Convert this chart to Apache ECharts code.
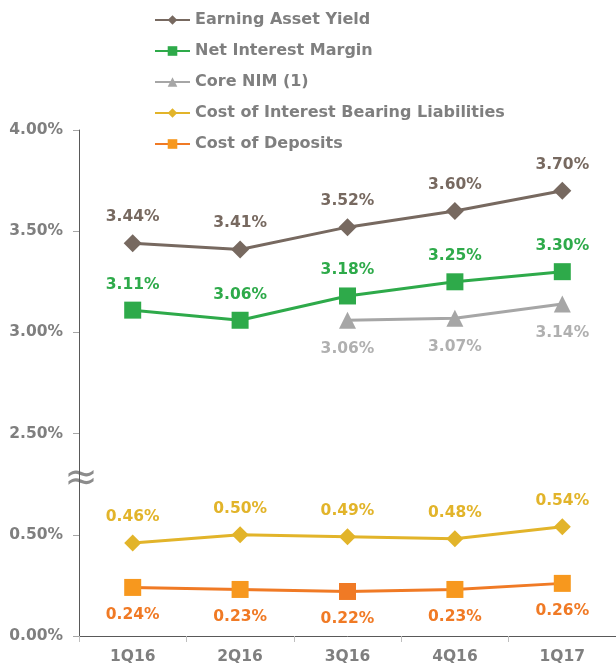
<!DOCTYPE html>
<html>
<head>
    <meta http-equiv="Content-Type" content="text/html; charset=UTF-8">
    <title>Yields and costs</title>
    <script src="https://cdn.jsdelivr.net/npm/echarts@6/dist/echarts.min.js"></script>
</head>
<body style="margin:0">
    <div id="main" style="width: 616px;height:666px;"></div>

    <script type="text/javascript">
        var quarters = ['1Q16', '2Q16', '3Q16', '4Q16', '1Q17'];
        var earningAssetYield = [3.44, 3.41, 3.52, 3.60, 3.70];
        var netInterestMargin = [3.11, 3.06, 3.18, 3.25, 3.30];
        var coreNim = [null, null, 3.06, 3.07, 3.14];
        var costOfLiabilities = [0.46, 0.50, 0.49, 0.48, 0.54];
        var costOfDeposits = [0.24, 0.23, 0.22, 0.23, 0.26];
        var yTicks = ['0.00%', '0.50%', '2.50%', '3.00%', '3.50%', '4.00%'];

        // axis is broken between 0.50% and 2.50%: upper values are shifted down by 1.5
        function brk(v) {
            if (v === null) return null;
            return v >= 2 ? v - 1.5 : v;
        }
        function pct(v) {
            return v.toFixed(2) + '%';
        }

        var font = 'DejaVu Sans, sans-serif';
        var fs = 15.5;

        function makeSeries(name, values, color, symbol, size, labelPos, labelColor, markerColor, dist) {
            return {
                name: name,
                type: 'line',
                data: values.map(function (v) { return brk(v); }),
                symbol: symbol,
                symbolSize: size,
                showAllSymbol: true,
                connectNulls: false,
                lineStyle: { color: color, width: 3 },
                itemStyle: { color: markerColor || color },
                label: {
                    show: true,
                    position: labelPos,
                    distance: dist || 9,
                    color: labelColor || color,
                    fontFamily: font,
                    fontWeight: 'bold',
                    fontSize: fs,
                    formatter: function (p) { return pct(values[p.dataIndex]); }
                },
                emphasis: { disabled: true }
            };
        }

        var cod = makeSeries('Cost of Deposits', costOfDeposits, '#f07a25', 'rect', 17, 'bottom', '#f07a25', '#f7981e', 11);
        cod.data[2] = { value: cod.data[2], itemStyle: { color: '#f07a25' } };

        var myChart = echarts.init(document.getElementById('main'));
        myChart.setOption({
            animation: false,
            textStyle: { fontFamily: font },
            legend: {
                orient: 'vertical',
                left: 149,
                top: 7,
                itemGap: 15,
                itemWidth: 35,
                itemHeight: 12,
                textStyle: { color: '#7f7f7f', fontSize: 16, fontWeight: 'bold', fontFamily: font },
                data: ['Earning Asset Yield', 'Net Interest Margin', 'Core NIM (1)',
                       'Cost of Interest Bearing Liabilities', 'Cost of Deposits']
            },
            grid: { left: 79, top: 130, width: 544, height: 506 },
            xAxis: {
                type: 'category',
                data: quarters,
                boundaryGap: true,
                axisLine: { lineStyle: { color: '#595959', width: 1 } },
                axisTick: { show: true, length: 6, lineStyle: { color: '#bfbfbf' } },
                axisLabel: { color: '#7f7f7f', fontSize: fs, fontWeight: 'bold', margin: 13 }
            },
            yAxis: {
                type: 'value',
                min: 0,
                max: 2.5,
                interval: 0.5,
                splitLine: { show: false },
                axisLine: { show: true, lineStyle: { color: '#595959', width: 1 } },
                axisTick: { show: true, length: 6, lineStyle: { color: '#a6a6a6' } },
                axisLabel: {
                    color: '#7f7f7f', fontSize: fs, fontWeight: 'bold', margin: 16,
                    formatter: function (v) { return yTicks[Math.round(v / 0.5)]; }
                }
            },
            graphic: [
                {
                    type: 'text',
                    x: 81,
                    y: 480,
                    style: {
                        text: '\u2248', fill: '#8c8c8c', font: '40px ' + font,
                        textAlign: 'center', textVerticalAlign: 'middle'
                    }
                }
            ],
            series: [
                makeSeries('Earning Asset Yield', earningAssetYield, '#776960', 'diamond', 18, 'top'),
                makeSeries('Net Interest Margin', netInterestMargin, '#2eaa4a', 'rect', 17, 'top'),
                makeSeries('Core NIM (1)', coreNim, '#a6a6a6', 'triangle', 17, 'bottom', '#b0b0b0', null, 12),
                makeSeries('Cost of Interest Bearing Liabilities', costOfLiabilities, '#e2b42a', 'diamond', 17, 'top'),
                cod
            ]
        });
    </script>
</body>
</html>
